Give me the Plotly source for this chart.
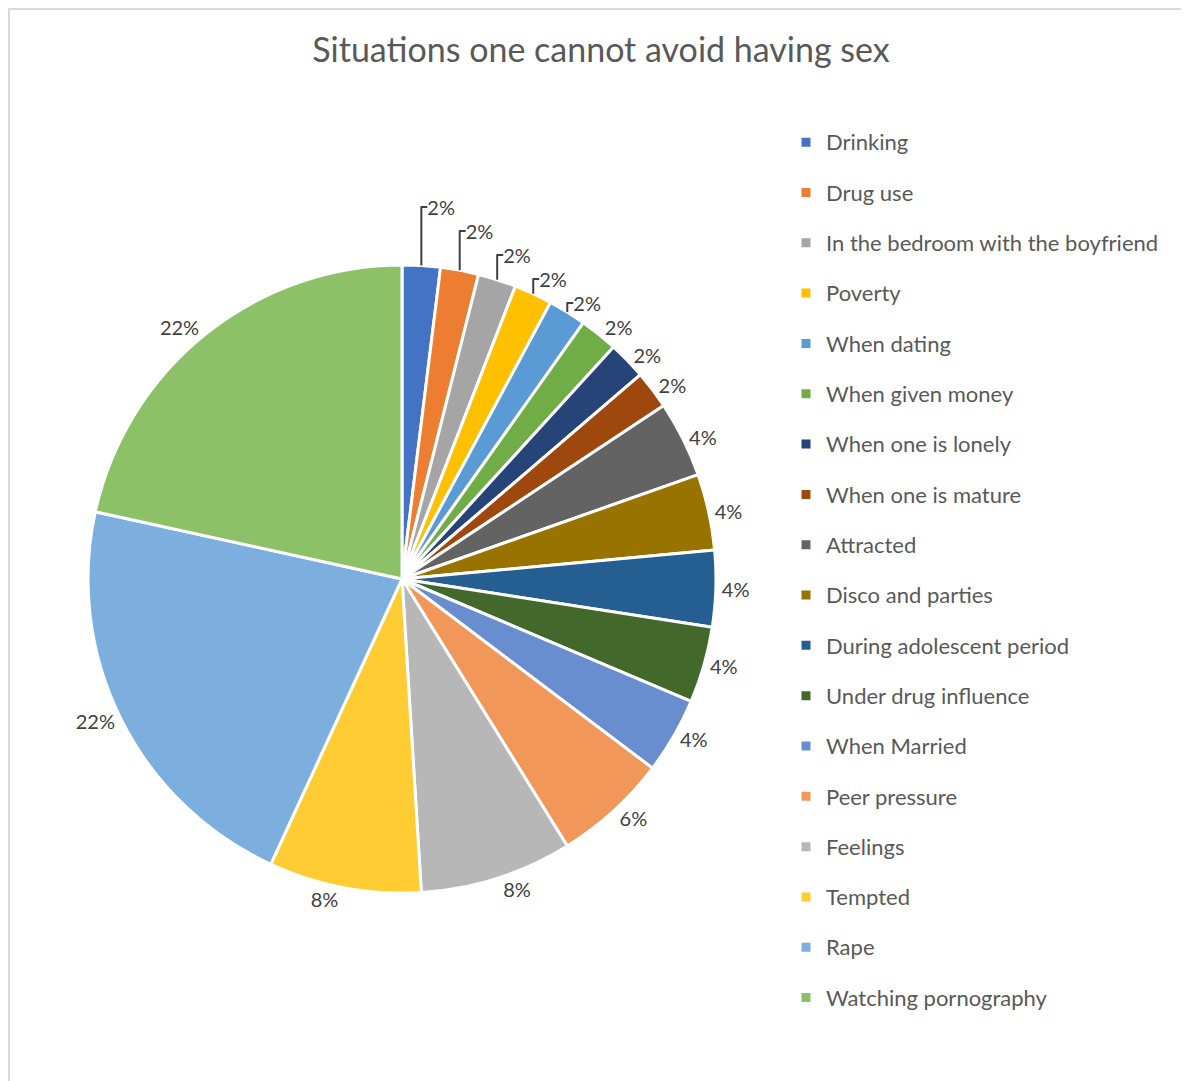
import plotly.graph_objects as go

categories = [
    "Drinking", "Drug use", "In the bedroom with the boyfriend", "Poverty",
    "When dating", "When given money", "When one is lonely", "When one is mature",
    "Attracted", "Disco and parties", "During adolescent period", "Under drug influence",
    "When Married", "Peer pressure", "Feelings", "Tempted", "Rape", "Watching pornography",
]
counts = [1, 1, 1, 1, 1, 1, 1, 1, 2, 2, 2, 2, 2, 3, 4, 4, 11, 11]
colors = [
    "#4472C4", "#ED7D31", "#A5A5A5", "#FFC000", "#5B9BD5", "#70AD47", "#264478", "#9E480E",
    "#636363", "#997300", "#255E91", "#43682B", "#698ED0", "#F1975A", "#B7B7B7", "#FFCD33",
    "#7CAFDD", "#8CC168",
]
title_text = "Situations one cannot avoid having sex"

FONT = "Lato"
legend_labels = [
    f"<span style='font-size:22px;baseline-shift:6.5px'>{c}</span>" for c in categories
]

# page is offset by 8px (body margin); work in figure coordinates
OFF = 8
W, H = 1189, 1081
L, T = 1, 1
pw, ph = W - L, H - T

cx, cy, r = 402 - OFF, 579 - OFF, 314

fig = go.Figure()
fig.add_trace(go.Pie(
    labels=legend_labels,
    values=counts,
    sort=False,
    direction="clockwise",
    rotation=0,
    marker=dict(colors=colors, line=dict(color="white", width=3)),
    textposition="outside",
    texttemplate="%{percent:.0%}",
    textfont=dict(family=FONT, size=20, color="#404040"),
    domain=dict(
        x=[(cx - r - L) / pw, (cx + r - L) / pw],
        y=[(H - (cy + r)) / ph, (H - (cy - r)) / ph],
    ),
    hoverinfo="label+percent",
))

leg_sym_x = 806 - OFF
leg_top = 142 - OFF - 30

fig.update_layout(
    width=W, height=H,
    margin=dict(l=L, r=0, t=T, b=0),
    paper_bgcolor="white",
    plot_bgcolor="white",
    font=dict(family=FONT, color="#595959"),
    title=dict(
        text=title_text,
        x=(601 - OFF) / W, xref="container", xanchor="center",
        y=1 - (50 - OFF) / H, yref="container", yanchor="middle",
        font=dict(family=FONT, size=34, color="#595959"),
    ),
    showlegend=True,
    legend=dict(
        x=(leg_sym_x - 20 - L) / pw, xanchor="left",
        y=(H - leg_top) / ph, yanchor="top",
        font=dict(family=FONT, size=36.4, color="#595959"),
        bgcolor="rgba(0,0,0,0)",
        traceorder="normal",
    ),
    shapes=[dict(
        type="rect", xref="paper", yref="paper",
        x0=0, x1=1.05, y0=-0.05, y1=1,
        line=dict(color="#D9D9D9", width=2),
        fillcolor="rgba(0,0,0,0)", layer="below",
    )],
)

fig.write_html("out.html")
